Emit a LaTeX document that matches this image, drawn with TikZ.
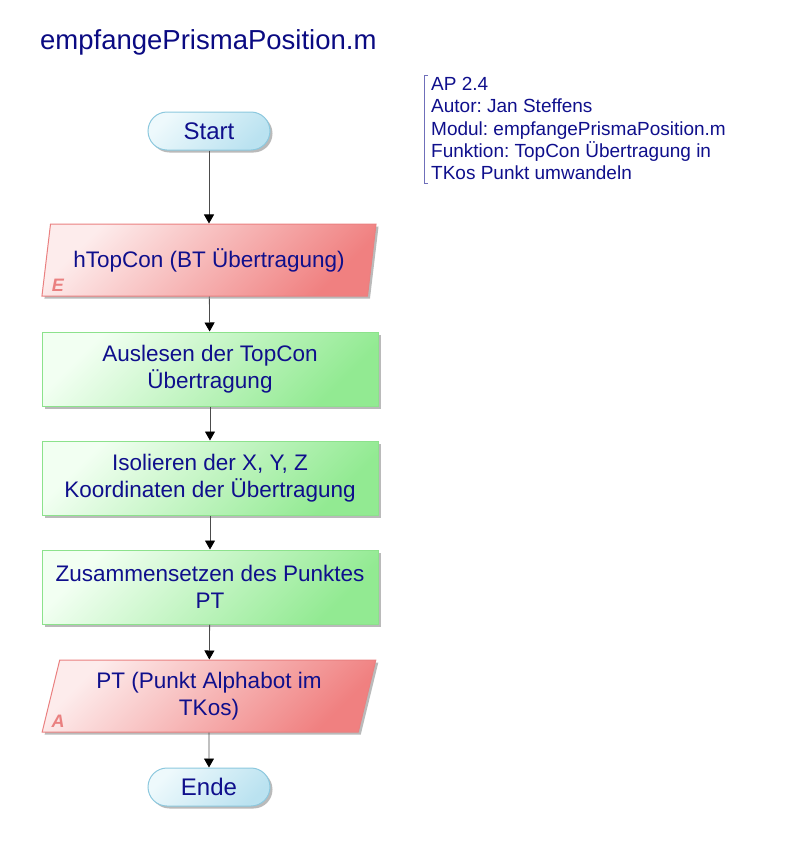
\documentclass[tikz,border=0pt]{standalone}
\usepackage{fontspec}
\setmainfont{Liberation Sans}
\usetikzlibrary{shapes.geometric,shadows,arrows.meta}
\frenchspacing

\definecolor{textblue}{RGB}{15,15,140}
\definecolor{titleblue}{RGB}{10,10,130}
\definecolor{termline}{RGB}{140,200,222}
\definecolor{termlight}{RGB}{238,249,252}
\definecolor{termdark}{RGB}{186,226,240}
\definecolor{ioline}{RGB}{234,128,128}
\definecolor{iolight}{RGB}{253,236,236}
\definecolor{iodark}{RGB}{240,128,128}
\definecolor{procline}{RGB}{140,226,140}
\definecolor{proclight}{RGB}{242,255,242}
\definecolor{procdark}{RGB}{146,234,146}

\tikzset{
  shape base/.style={line width=1pt, text=textblue,
    font=\fontsize{22.5}{27}\selectfont, align=center,
    drop shadow={shadow xshift=2.5pt, shadow yshift=-2.5pt, fill=black!45, opacity=0.6}},
  terminal/.style={shape base, draw=termline, rectangle, rounded corners=19pt,
    minimum width=122pt, minimum height=38pt, font=\fontsize{24}{27}\selectfont,
    top color=termlight, bottom color=termdark, shading angle=45},
  inout/.style={shape base, draw=ioline, trapezium, trapezium left angle=76,
    trapezium right angle=104, trapezium stretches=true,
    minimum width=335pt, minimum height=72pt,
    top color=iolight, bottom color=iodark, shading angle=45},
  process/.style={shape base, draw=procline, rectangle,
    minimum width=336pt, minimum height=74pt,
    top color=proclight, bottom color=procdark, shading angle=45},
  iomark/.style={text=ioline, font=\fontsize{18}{18}\selectfont\bfseries\itshape, inner sep=0pt},
  flow/.style={draw=black!70, line width=0.8pt, -{Triangle[width=10pt,length=9pt,black]}},
  note/.style={text=textblue, font=\fontsize{19}{22.3}\selectfont, align=left, inner sep=0pt}
}

\begin{document}
\begin{tikzpicture}[x=1pt,y=-1pt]
  \useasboundingbox (0,0) rectangle (800,841);

  \node[anchor=base west, inner sep=0pt, text=titleblue, font=\fontsize{27.5}{27}\selectfont] (title) at (40,49) {empfangePrismaPosition.m};

  \node[note, anchor=north west] (info) at (431,77) {AP 2.4\\Autor: Jan Steffens\\Modul: empfangePrismaPosition.m\\Funktion: TopCon Übertragung in\\TKos Punkt umwandeln};
  \draw[draw=textblue!60, line width=0.8pt] ([xshift=-3pt,yshift=2pt]info.north west) -- ([xshift=-7pt,yshift=2pt]info.north west)
    -- ([xshift=-7pt,yshift=-3pt]info.south west) -- ([xshift=-3pt,yshift=-3pt]info.south west);

  \node[terminal] (start) at (209,131) {Start};
  \node[inout] (ein) at (209,260) {hTopCon (BT Übertragung)};
  \node[process] (lesen) at (210,369) {Auslesen der TopCon\\Übertragung};
  \node[process] (iso) at (210,478) {Isolieren der X, Y, Z\\Koordinaten der Übertragung};
  \node[process] (punkt) at (210,587) {Zusammensetzen des Punktes\\PT};
  \node[inout] (aus) at (209,696) {PT (Punkt Alphabot im\\TKos)};
  \node[terminal] (ende) at (209,787) {Ende};

  \node[iomark] (e) at (58,285) {E};
  \node[iomark] (a) at (58,721) {A};

  \draw[flow] (start) -- (ein);
  \draw[flow] (ein) -- (lesen);
  \draw[flow] (lesen) -- (iso);
  \draw[flow] (iso) -- (punkt);
  \draw[flow] (punkt) -- (aus);
  \draw[flow] (aus) -- (ende);
\end{tikzpicture}
\end{document}
